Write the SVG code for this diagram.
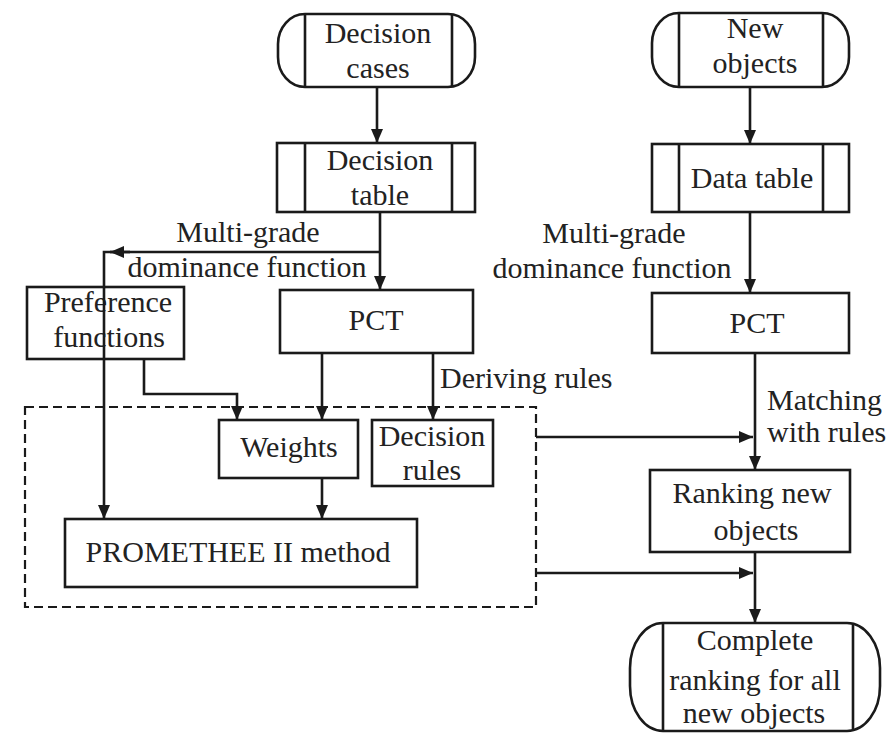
<svg xmlns="http://www.w3.org/2000/svg" width="895" height="734" viewBox="0 0 895 734" font-family="'Liberation Serif', 'DejaVu Serif', serif">
<defs>
<style>
.b{fill:#fff;stroke:#1a1a1a;stroke-width:2.6}
.l{fill:none;stroke:#1a1a1a;stroke-width:2.6}
.c{fill:none;stroke:#1a1a1a;stroke-width:2.6}
.d{fill:none;stroke:#1a1a1a;stroke-width:2.2;stroke-dasharray:9 5}
text{font-family:'Liberation Serif','DejaVu Serif',serif;font-size:30px;fill:#222}
.m{text-anchor:middle}
</style>
<marker id="a" markerWidth="14" markerHeight="14" viewBox="0 0 14 14" refX="14" refY="7" orient="auto" markerUnits="userSpaceOnUse">
<path d="M0,1 L14,7 L0,13 Z" fill="#1a1a1a"/>
</marker>
</defs>
<rect width="895" height="734" fill="#fff"/>

<g id="decision-cases">
<rect class="b" x="278" y="14" width="197" height="73" rx="27" ry="30"/>
<path class="l" d="M305 14V87M452 14V87"/>
<text class="m" x="378" y="43">Decision</text>
<text class="m" x="378" y="78">cases</text>
</g>

<g id="decision-table">
<rect class="b" x="277" y="143" width="198" height="69"/>
<path class="l" d="M305 143V212M452 143V212"/>
<text class="m" x="380" y="170">Decision</text>
<text class="m" x="380" y="205">table</text>
</g>

<g id="pct-left">
<rect class="b" x="280" y="290" width="193" height="63"/>
<text class="m" x="376" y="330">PCT</text>
</g>

<g id="preference-functions">
<rect class="b" x="27" y="287" width="157" height="72"/>
<text class="m" x="108" y="312">Preference</text>
<text class="m" x="109" y="347">functions</text>
</g>

<g id="group-box">
<rect class="d" x="25" y="407" width="511" height="200"/>
</g>

<g id="weights">
<rect class="b" x="219" y="420" width="139" height="58"/>
<text class="m" x="289" y="457">Weights</text>
</g>

<g id="decision-rules">
<rect class="b" x="372" y="420" width="121" height="66"/>
<text class="m" x="432" y="446">Decision</text>
<text class="m" x="432" y="480">rules</text>
</g>

<g id="promethee">
<rect class="b" x="65" y="519" width="352" height="68"/>
<text class="m" x="238" y="562">PROMETHEE II method</text>
</g>

<g id="new-objects">
<rect class="b" x="652" y="13" width="197" height="74" rx="27" ry="30"/>
<path class="l" d="M679 13V87M823 13V87"/>
<text class="m" x="755" y="38">New</text>
<text class="m" x="755" y="73">objects</text>
</g>

<g id="data-table">
<rect class="b" x="652" y="144" width="197" height="68"/>
<path class="l" d="M679 144V212M823 144V212"/>
<text class="m" x="752" y="188">Data table</text>
</g>

<g id="pct-right">
<rect class="b" x="652" y="293" width="197" height="60"/>
<text class="m" x="757" y="333">PCT</text>
</g>

<g id="ranking-new">
<rect class="b" x="650" y="470" width="200" height="82"/>
<text class="m" x="752" y="503">Ranking new</text>
<text class="m" x="756" y="540">objects</text>
</g>

<g id="complete-ranking">
<rect class="b" x="630" y="623" width="250" height="108" rx="33" ry="45"/>
<path class="l" d="M663 623V731M853 623V731"/>
<text class="m" x="755" y="650">Complete</text>
<text class="m" x="755" y="690">ranking for all</text>
<text class="m" x="754" y="723">new objects</text>
</g>

<g id="connectors">
<path class="c" d="M377 87V143" marker-end="url(#a)"/>
<path class="c" d="M380 212V290" marker-end="url(#a)"/>
<path class="c" d="M380 252H104V519" marker-end="url(#a)"/>
<path class="c" d="M130 252H110" marker-end="url(#a)"/>
<path class="c" d="M144 359V394H237V420" marker-end="url(#a)"/>
<path class="c" d="M322 353V420" marker-end="url(#a)"/>
<path class="c" d="M433 353V420" marker-end="url(#a)"/>
<path class="c" d="M322 478V519" marker-end="url(#a)"/>
<path class="c" d="M750 87V144" marker-end="url(#a)"/>
<path class="c" d="M750 212V293" marker-end="url(#a)"/>
<path class="c" d="M755 353V470" marker-end="url(#a)"/>
<path class="c" d="M536 437H753" marker-end="url(#a)"/>
<path class="c" d="M755 552V623" marker-end="url(#a)"/>
<path class="c" d="M536 573H753" marker-end="url(#a)"/>
</g>

<g id="labels">
<text class="m" x="248" y="242">Multi-grade</text>
<text class="m" x="247" y="277">dominance function</text>
<text class="m" x="614" y="243">Multi-grade</text>
<text class="m" x="612" y="278">dominance function</text>
<text x="440" y="388">Deriving rules</text>
<text x="767" y="410">Matching</text>
<text x="767" y="442">with rules</text>
</g>
</svg>
